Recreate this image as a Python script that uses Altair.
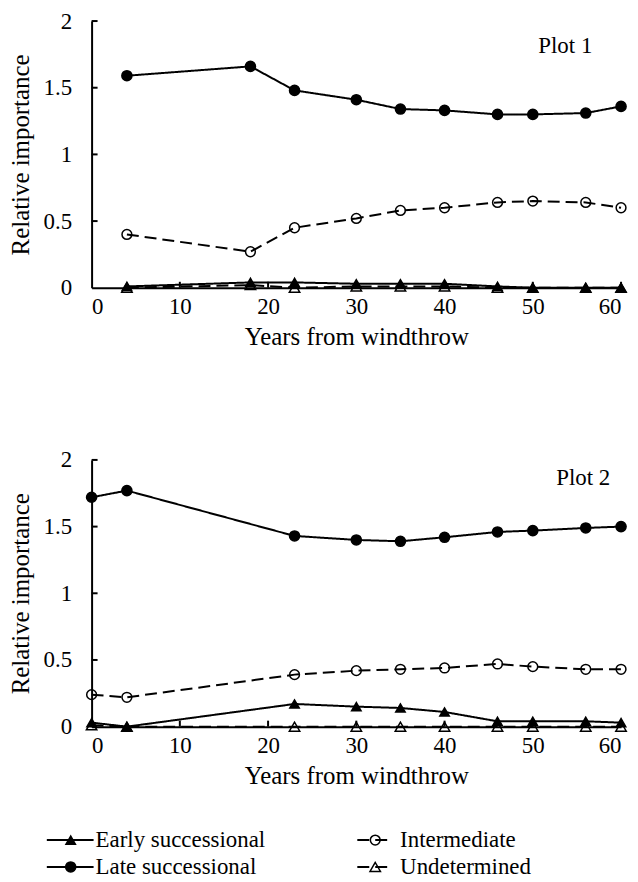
import altair as alt
import pandas as pd

series = ["Early successional", "Intermediate", "Late successional", "Undetermined"]

years1 = [4, 18, 23, 30, 35, 40, 46, 50, 56, 60]
early1 = [0.01, 0.04, 0.04, 0.03, 0.03, 0.03, 0.01, 0.00, 0.00, 0.00]
inter1 = [0.40, 0.27, 0.45, 0.52, 0.58, 0.60, 0.64, 0.65, 0.64, 0.60]
late1 = [1.59, 1.66, 1.48, 1.41, 1.34, 1.33, 1.30, 1.30, 1.31, 1.36]
undet1 = [0.00, 0.02, 0.00, 0.01, 0.01, 0.01, 0.00, 0.00, 0.00, 0.00]

years2 = [0, 4, 23, 30, 35, 40, 46, 50, 56, 60]
early2 = [0.03, 0.00, 0.17, 0.15, 0.14, 0.11, 0.04, 0.04, 0.04, 0.03]
inter2 = [0.24, 0.22, 0.39, 0.42, 0.43, 0.44, 0.47, 0.45, 0.43, 0.43]
late2 = [1.72, 1.77, 1.43, 1.40, 1.39, 1.42, 1.46, 1.47, 1.49, 1.50]
undet2 = [0.01, 0.00, 0.00, 0.00, 0.00, 0.00, 0.00, 0.00, 0.00, 0.00]

x_ticks = [0, 10, 20, 30, 40, 50, 60]
y_ticks = [0, 0.5, 1, 1.5, 2]
panel_labels = ["Plot 1", "Plot 2"]

FONT = "Liberation Serif"
W, H = 532, 268

dash_scale = alt.Scale(domain=series, range=[[1, 0], [12, 6], [1, 0], [12, 6]])
legend_dash_scale = alt.Scale(domain=series, range=[[1, 0], [10, 4], [1, 0], [10, 4]])
shape_scale = alt.Scale(domain=series, range=["triangle-up", "circle", "circle", "triangle-up"])
fill_scale = alt.Scale(domain=series, range=["black", "transparent", "black", "transparent"])
size_scale = alt.Scale(domain=series, range=[90, 110, 150, 70])


def long_df(years, cols):
    rows = []
    for name, vals in zip(series, cols):
        for yr, v in zip(years, vals):
            rows.append({"year": yr, "value": v, "series": name})
    return pd.DataFrame(rows)


def panel(df, label, lx_px, ly_px):
    base = alt.Chart(df)
    x = alt.X("year:Q", scale=alt.Scale(domain=[0, 60], nice=False),
              axis=alt.Axis(values=x_ticks, title="Years from windthrow", ticks=False,
                            labelPadding=8, titlePadding=6, grid=False))
    y = alt.Y("value:Q", scale=alt.Scale(domain=[0, 2], nice=False),
              axis=alt.Axis(values=y_ticks, title="Relative importance", ticks=False,
                            format="~g", labelPadding=20, titlePadding=10, grid=False))
    lines = base.mark_line(color="black", strokeWidth=2).encode(
        x=x, y=y,
        strokeDash=alt.StrokeDash("series:N", scale=dash_scale, legend=None),
        detail="series:N",
    )
    points = base.mark_point(filled=True, stroke="black", strokeWidth=1.5, opacity=1).encode(
        x=x, y=y,
        shape=alt.Shape("series:N", scale=shape_scale, legend=None),
        fill=alt.Fill("series:N", scale=fill_scale, legend=None),
        size=alt.Size("series:N", scale=size_scale, legend=None),
    )
    xt = alt.Chart(pd.DataFrame({"year": x_ticks[1:]})).mark_rule(color="black", strokeWidth=2).encode(
        x=x, y=alt.value(H), y2=alt.value(H - 6))
    yt = alt.Chart(pd.DataFrame({"value": y_ticks[1:]})).mark_rule(color="black", strokeWidth=2).encode(
        y=y, x=alt.value(0), x2=alt.value(6))
    txt = alt.Chart(pd.DataFrame({"label": [label]})).mark_text(
        font=FONT, fontSize=23, color="black", align="center", baseline="middle").encode(
        text="label:N", x=alt.value(lx_px), y=alt.value(ly_px))
    return alt.layer(lines, points, xt, yt, txt).properties(width=W, height=H)


p1 = panel(long_df(years1, [early1, inter1, late1, undet1]), panel_labels[0], 476, 25)
p2 = panel(long_df(years2, [early2, inter2, late2, undet2]), panel_labels[1], 494, 18)

leg_df = pd.DataFrame({"series": series, "col": [0, 1, 0, 1], "row": [0, 0, 1, 1]})
lx = alt.X("col:Q", scale=alt.Scale(domain=[0, 1], range=[-21, 285]), axis=None)
ly = alt.Y("row:Q", scale=alt.Scale(domain=[0, 1], range=[12, 39]), axis=None)
lbase = alt.Chart(leg_df)
lrule_solid = lbase.transform_filter("datum.col == 0").mark_rule(
    color="black", strokeWidth=2, xOffset=-24, x2Offset=23).encode(
    x=lx, x2="col:Q", y=ly,
    strokeDash=alt.StrokeDash("series:N", scale=legend_dash_scale, legend=None))
lrule_dash = lbase.transform_filter("datum.col == 1").mark_rule(
    color="black", strokeWidth=2, xOffset=-18, x2Offset=18).encode(
    x=lx, x2="col:Q", y=ly,
    strokeDash=alt.StrokeDash("series:N", scale=legend_dash_scale, legend=None))
lpts = lbase.mark_point(filled=True, stroke="black", strokeWidth=1.5, opacity=1).encode(
    x=lx, y=ly,
    shape=alt.Shape("series:N", scale=shape_scale, legend=None),
    fill=alt.Fill("series:N", scale=fill_scale, legend=None),
    size=alt.Size("series:N", scale=size_scale, legend=None))
ltxt = lbase.mark_text(font=FONT, fontSize=23, color="black", align="left", baseline="middle", dx=25).encode(
    x=lx, y=ly, text="series:N")
legend = alt.layer(lrule_solid, lrule_dash, lpts, ltxt).properties(width=W, height=50)

inner = alt.vconcat(p1, p2, spacing=100)
chart = alt.vconcat(inner, legend, spacing=40).properties(
    padding={"left": 0, "top": 0, "right": 0, "bottom": 0},
    background="white",
).configure_view(strokeWidth=0).configure_axis(
    domainColor="black", domainWidth=2, labelFont=FONT, titleFont=FONT,
    labelFontSize=23, titleFontSize=25, titleFontWeight="normal",
    labelColor="black", titleColor="black",
)

chart.save("out.html", embed_options={"renderer": "svg", "actions": False})
